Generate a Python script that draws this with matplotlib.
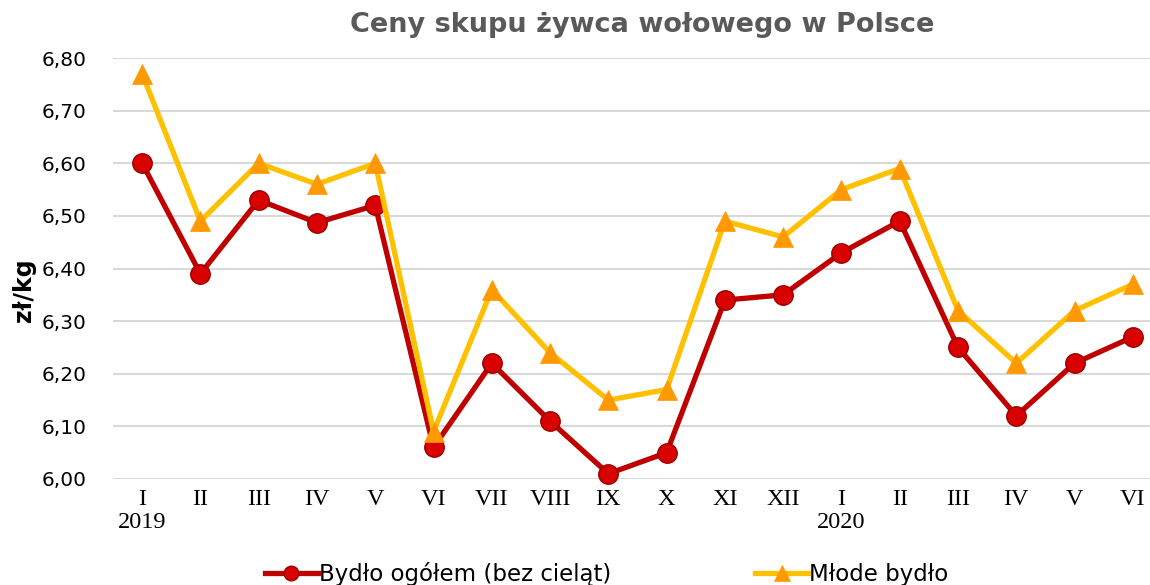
import matplotlib
matplotlib.use("Agg")
import matplotlib.pyplot as plt

months = ["I", "II", "III", "IV", "V", "VI", "VII", "VIII", "IX", "X", "XI", "XII",
          "I", "II", "III", "IV", "V", "VI"]
years = {0: "2019", 12: "2020"}
bydlo_ogolem = [6.60, 6.39, 6.53, 6.487, 6.52, 6.06, 6.22, 6.11, 6.01, 6.05, 6.34, 6.35,
                6.43, 6.49, 6.25, 6.12, 6.22, 6.27]
mlode_bydlo = [6.77, 6.49, 6.60, 6.56, 6.60, 6.09, 6.36, 6.24, 6.15, 6.17, 6.49, 6.46,
               6.55, 6.59, 6.32, 6.22, 6.32, 6.37]
yticks = [6.00, 6.10, 6.20, 6.30, 6.40, 6.50, 6.60, 6.70, 6.80]

W, H = 1150, 585
fig = plt.figure(figsize=(W / 100, H / 100), dpi=100)
ax = fig.add_axes([113 / W, 1 - 479 / H, (1162 - 113) / W, (479 - 58) / H])

x = list(range(len(months)))
ax.plot(x, bydlo_ogolem, color="#C00000", lw=3.8, marker="o", markersize=14,
        markerfacecolor="#D80000", markeredgecolor="#9A0000", markeredgewidth=1,
        label="Bydło ogółem (bez cieląt)", zorder=3, clip_on=False)
ax.plot(x, mlode_bydlo, color="#FFC000", lw=3.8, marker="^", markersize=15,
        markerfacecolor="#FF9900", markeredgecolor="#FF9900", markeredgewidth=0.5,
        label="Młode bydło", zorder=4, clip_on=False)

ax.set_xlim(-0.5, len(months) - 0.5)
ax.set_ylim(6.0, 6.8)
ax.set_yticks(yticks)
ax.set_yticklabels([f"{v:.2f}".replace(".", ",") for v in yticks], fontsize=14.5,
                   family="DejaVu Sans")
ax.set_xticks(x)
ax.set_xticklabels([m + ("\n" + years[i] if i in years else "") for i, m in enumerate(months)],
                   fontsize=17.5, family="Liberation Serif", linespacing=1.15, va="top")
ax.tick_params(axis="both", length=0)
ax.tick_params(axis="y", pad=19)
ax.tick_params(axis="x", pad=7)
for s in ax.spines.values():
    s.set_visible(False)
ax.grid(axis="y", color="#D9D9D9", lw=1.5)
ax.set_axisbelow(True)

fig.text(642 / W, 1 - 25 / H, "Ceny skupu żywca wołowego w Polsce", ha="center", va="center",
         fontsize=19.5, fontweight="bold", color="#595959", family="DejaVu Sans")
fig.text(24 / W, 1 - 290 / H, "zł/kg", rotation=90, ha="center", va="center",
         fontsize=17, fontweight="bold", family="DejaVu Sans")

fig.legend(loc="center left", bbox_to_anchor=(265 / W, 1 - 574 / H), ncol=2, frameon=False,
           fontsize=16.5, handlelength=2.3, handletextpad=0.05, columnspacing=6.3,
           borderaxespad=0, borderpad=0, markerscale=0.75)

fig.savefig("out.png", dpi=100, facecolor="white")
